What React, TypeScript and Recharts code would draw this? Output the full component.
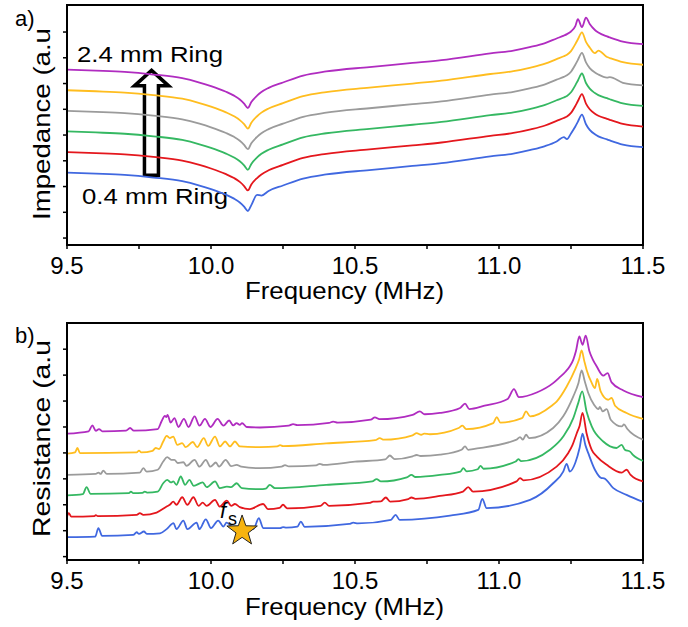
import React from "react";
import {
  LineChart,
  Line,
  XAxis,
  YAxis,
  ReferenceArea,
  ReferenceDot,
  Customized,
} from "recharts";

const FONT = '"Liberation Sans", Arial, Helvetica, sans-serif';

// Ring widths, 0.4 mm (blue) up to 2.4 mm (purple)
const SERIES = ["blue", "red", "green", "gray", "yellow", "purple"] as const;
const COLORS: Record<string, string> = {
  blue: "#4068e0",
  red: "#e4171d",
  green: "#35b862",
  gray: "#9b9b9b",
  yellow: "#ffbd1f",
  purple: "#b02cc0",
};

const X_TICKS = [9.5, 9.75, 10, 10.25, 10.5, 10.75, 11, 11.25, 11.5];
const Y_TICKS = [0, 1, 2, 3, 4, 5, 6, 7, 8];

// ---------- a) impedance (a.u.), offset per ring ----------
const FREQ_A = [
  9.5, 9.6, 9.7, 9.8, 9.9, 9.96, 10.0, 10.05, 10.08, 10.1, 10.115, 10.128, 10.14,
  10.16, 10.175, 10.2, 10.25, 10.32, 10.4, 10.55, 10.7, 10.8, 10.97, 11.05, 11.11,
  11.16, 11.2, 11.225, 11.236, 11.25, 11.265, 11.274, 11.288, 11.302, 11.315,
  11.333, 11.345, 11.375, 11.385, 11.43, 11.5,
];
const IMP_PURPLE = [
  6.54, 6.5, 6.45, 6.35, 6.21, 6.04, 5.9, 5.69, 5.53, 5.38, 5.22, 5.05, 5.28, 5.53,
  5.67, 5.83, 6.04, 6.31, 6.47, 6.64, 6.8, 6.91, 7.17, 7.28, 7.42, 7.57, 7.75, 7.86,
  7.92, 8.02, 8.23, 8.5, 8.19, 8.56, 8.31, 8.08, 7.98, 7.83, 7.79, 7.63, 7.53,
];
const IMP_YELLOW = [
  5.74, 5.7, 5.65, 5.55, 5.41, 5.24, 5.1, 4.89, 4.73, 4.58, 4.42, 4.25, 4.48, 4.73,
  4.87, 5.03, 5.24, 5.51, 5.67, 5.84, 6.0, 6.11, 6.37, 6.48, 6.62, 6.77, 6.95, 7.06,
  7.12, 7.26, 7.53, 7.72, 7.99, 7.62, 7.4, 7.18, 7.28, 7.03, 6.99, 6.83, 6.73,
];
const IMP_GRAY = [
  4.94, 4.9, 4.85, 4.75, 4.61, 4.44, 4.3, 4.09, 3.93, 3.78, 3.62, 3.45, 3.68, 3.93,
  4.07, 4.23, 4.44, 4.71, 4.87, 5.04, 5.2, 5.31, 5.57, 5.68, 5.82, 5.97, 6.15, 6.26,
  6.32, 6.46, 6.73, 6.92, 7.19, 6.82, 6.6, 6.43, 6.35, 6.23, 6.25, 6.03, 5.93,
];
const IMP_GREEN = [
  4.14, 4.1, 4.05, 3.95, 3.81, 3.64, 3.5, 3.29, 3.13, 2.98, 2.82, 2.65, 2.88, 3.13,
  3.27, 3.43, 3.64, 3.91, 4.07, 4.24, 4.4, 4.51, 4.77, 4.88, 5.02, 5.17, 5.35, 5.46,
  5.52, 5.66, 5.93, 6.12, 6.39, 6.02, 5.8, 5.63, 5.55, 5.43, 5.39, 5.23, 5.13,
];
const IMP_RED = [
  3.34, 3.3, 3.25, 3.15, 3.01, 2.84, 2.7, 2.49, 2.33, 2.18, 2.02, 1.85, 2.08, 2.33,
  2.47, 2.63, 2.84, 3.11, 3.27, 3.44, 3.6, 3.71, 3.97, 4.08, 4.22, 4.37, 4.55, 4.66,
  4.72, 4.86, 5.13, 5.32, 5.59, 5.22, 5.0, 4.83, 4.75, 4.63, 4.59, 4.43, 4.33,
];
const IMP_BLUE = [
  2.54, 2.5, 2.45, 2.35, 2.21, 2.04, 1.9, 1.69, 1.53, 1.38, 1.22, 1.05, 1.28, 1.68,
  1.65, 1.83, 2.04, 2.31, 2.47, 2.64, 2.8, 2.91, 3.17, 3.28, 3.42, 3.57, 3.75, 3.92,
  3.84, 4.06, 4.33, 4.52, 4.79, 4.42, 4.2, 4.03, 3.95, 3.83, 3.79, 3.63, 3.53,
];

// ---------- b) resistance (a.u.), [frequency MHz, value] ----------
type Pt = [number, number];
const RES_PURPLE: Pt[] = [
  [9.5, 4.74], [9.575, 4.83], [9.588, 5.06], [9.6, 4.85], [9.611, 4.92], [9.623, 4.83],
  [9.705, 4.86], [9.719, 4.96], [9.732, 4.86], [9.815, 4.92], [9.828, 5.21], [9.84, 5.43],
  [9.845, 5.38], [9.849, 5.47], [9.86, 5.17], [9.873, 5.34], [9.887, 5.0], [9.906, 5.31],
  [9.922, 5.0], [9.943, 5.41], [9.96, 5.05], [9.979, 5.31], [9.998, 5.0], [10.023, 5.31],
  [10.043, 5.05], [10.063, 5.25], [10.077, 5.06], [10.089, 5.15], [10.1, 5.08],
  [10.108, 5.15], [10.124, 5.0], [10.17, 4.98], [10.27, 5.05], [10.285, 5.11], [10.3, 5.07],
  [10.41, 5.16], [10.424, 5.21], [10.44, 5.17], [10.555, 5.28], [10.569, 5.37],
  [10.585, 5.3], [10.7, 5.47], [10.725, 5.6], [10.742, 5.49], [10.795, 5.54],
  [10.865, 5.73], [10.882, 5.9], [10.897, 5.69], [10.95, 5.82], [11.03, 6.08],
  [11.052, 6.46], [11.069, 6.15], [11.131, 6.33], [11.189, 6.7], [11.212, 6.93],
  [11.23, 7.12], [11.246, 7.34], [11.258, 7.6], [11.267, 7.92], [11.279, 8.49],
  [11.29, 8.17], [11.301, 8.52], [11.314, 7.92], [11.325, 7.62], [11.339, 7.34],
  [11.362, 6.98], [11.377, 7.08], [11.391, 6.72], [11.432, 6.41], [11.5, 6.15],
];
const RES_YELLOW: Pt[] = [
  [9.5, 3.97], [9.528, 4.02], [9.536, 4.19], [9.545, 3.99], [9.742, 4.02], [9.75, 4.09],
  [9.758, 4.02], [9.797, 4.08], [9.808, 4.19], [9.82, 4.15], [9.834, 4.44], [9.846, 4.66],
  [9.857, 4.57], [9.869, 4.63], [9.883, 4.31], [9.9, 4.38], [9.912, 4.22], [9.937, 4.42],
  [9.952, 4.22], [9.975, 4.57], [9.99, 4.27], [10.014, 4.63], [10.031, 4.25],
  [10.049, 4.44], [10.066, 4.25], [10.083, 4.44], [10.1, 4.25], [10.17, 4.22],
  [10.23, 4.25], [10.24, 4.3], [10.25, 4.26], [10.4, 4.37], [10.57, 4.49], [10.586, 4.57],
  [10.6, 4.51], [10.7, 4.68], [10.714, 4.76], [10.73, 4.7], [10.74, 4.74], [10.76, 4.72],
  [10.86, 4.96], [10.873, 5.05], [10.886, 4.92], [10.98, 5.15], [10.992, 5.38],
  [11.005, 5.17], [11.08, 5.34], [11.094, 5.6], [11.108, 5.41], [11.183, 5.82],
  [11.2, 5.98], [11.235, 6.56], [11.264, 7.21], [11.278, 7.6], [11.287, 7.95],
  [11.296, 7.55], [11.304, 7.21], [11.322, 6.7], [11.333, 6.5], [11.341, 6.85],
  [11.353, 6.37], [11.379, 6.05], [11.391, 6.12], [11.403, 5.82], [11.443, 5.54],
  [11.5, 5.31],
];
const RES_GRAY: Pt[] = [
  [9.5, 3.15], [9.6, 3.19], [9.609, 3.24], [9.617, 3.19], [9.626, 3.32], [9.638, 3.19],
  [9.753, 3.24], [9.765, 3.41], [9.777, 3.28], [9.815, 3.35], [9.834, 3.67], [9.848, 3.84],
  [9.862, 3.73], [9.873, 3.73], [9.885, 3.61], [9.904, 3.64], [9.915, 3.5], [9.943, 3.73],
  [9.96, 3.47], [9.982, 3.73], [9.998, 3.47], [10.017, 3.63], [10.028, 3.47],
  [10.051, 3.73], [10.07, 3.49], [10.089, 3.54], [10.105, 3.47], [10.17, 3.41],
  [10.245, 3.47], [10.257, 3.53], [10.27, 3.48], [10.365, 3.52], [10.378, 3.58],
  [10.39, 3.54], [10.5, 3.66], [10.605, 3.75], [10.621, 3.9], [10.638, 3.76], [10.7, 3.87],
  [10.714, 3.92], [10.728, 3.88], [10.795, 3.93], [10.87, 4.12], [10.882, 4.25],
  [10.893, 4.12], [10.91, 4.15], [11.061, 4.51], [11.073, 4.61], [11.083, 4.51],
  [11.094, 4.7], [11.105, 4.57], [11.188, 4.96], [11.223, 5.41], [11.258, 6.18],
  [11.276, 6.7], [11.287, 7.18], [11.298, 6.75], [11.31, 6.31], [11.33, 5.86],
  [11.345, 5.69], [11.35, 5.77], [11.36, 5.6], [11.374, 5.69], [11.388, 5.28],
  [11.426, 5.02], [11.434, 5.1], [11.445, 4.93], [11.5, 4.51],
];
const RES_GREEN: Pt[] = [
  [9.5, 2.36], [9.555, 2.41], [9.568, 2.68], [9.582, 2.42], [9.715, 2.45], [9.722, 2.51],
  [9.73, 2.45], [9.762, 2.46], [9.77, 2.51], [9.778, 2.47], [9.815, 2.51], [9.834, 2.83],
  [9.848, 2.96], [9.861, 2.86], [9.869, 2.9], [9.88, 2.77], [9.895, 3.09], [9.91, 2.77],
  [9.925, 2.96], [9.94, 2.73], [9.971, 2.86], [9.985, 2.68], [10.014, 2.9], [10.031, 2.64],
  [10.055, 2.7], [10.07, 2.68], [10.089, 2.83], [10.107, 2.64], [10.17, 2.6], [10.19, 2.62],
  [10.204, 2.77], [10.222, 2.64], [10.4, 2.77], [10.56, 2.9], [10.575, 2.99], [10.59, 2.9],
  [10.68, 3.06], [10.696, 3.15], [10.71, 3.07], [10.795, 3.15], [10.866, 3.28],
  [10.876, 3.41], [10.888, 3.29], [10.926, 3.37], [10.936, 3.5], [10.946, 3.39],
  [11.058, 3.67], [11.067, 3.76], [11.077, 3.68], [11.177, 4.12], [11.223, 4.63],
  [11.258, 5.34], [11.275, 5.92], [11.289, 6.37], [11.304, 5.6], [11.322, 5.02],
  [11.362, 4.44], [11.408, 4.19], [11.426, 4.31], [11.437, 4.12], [11.455, 4.05],
  [11.465, 3.92], [11.5, 3.69],
];
const RES_RED: Pt[] = [
  [9.5, 1.54], [9.506, 1.68], [9.515, 1.54], [9.595, 1.56], [9.6, 1.6], [9.607, 1.56],
  [9.742, 1.61], [9.753, 1.68], [9.765, 1.61], [9.811, 1.7], [9.846, 1.93], [9.857, 2.0],
  [9.869, 2.12], [9.88, 2.0], [9.9, 2.29], [9.918, 2.0], [9.939, 2.29], [9.957, 1.96],
  [9.971, 2.08], [9.985, 1.96], [10.014, 2.19], [10.03, 1.93], [10.055, 2.16],
  [10.07, 1.96], [10.083, 2.03], [10.1, 1.91], [10.135, 1.83], [10.181, 2.03],
  [10.198, 1.83], [10.238, 1.88], [10.25, 2.0], [10.265, 1.86], [10.38, 1.96],
  [10.395, 2.08], [10.41, 1.96], [10.55, 2.07], [10.563, 2.12], [10.59, 2.13],
  [10.607, 2.28], [10.622, 2.12], [10.685, 2.22], [10.696, 2.28], [10.71, 2.23],
  [10.795, 2.34], [10.875, 2.51], [10.893, 2.68], [10.91, 2.51], [11.061, 2.9],
  [11.073, 3.03], [11.085, 2.94], [11.2, 3.47], [11.24, 3.99], [11.255, 4.3],
  [11.27, 4.76], [11.28, 5.05], [11.29, 5.54], [11.304, 4.76], [11.322, 4.12],
  [11.34, 3.86], [11.374, 3.54], [11.426, 3.24], [11.443, 3.35], [11.457, 3.15],
  [11.5, 2.9],
];
const RES_BLUE: Pt[] = [
  [9.5, 0.75], [9.598, 0.77], [9.609, 1.1], [9.622, 0.8], [9.73, 0.84], [9.742, 0.94],
  [9.75, 0.88], [9.767, 0.97], [9.777, 0.88], [9.823, 0.9], [9.846, 1.06], [9.87, 1.29],
  [9.88, 1.06], [9.904, 1.39], [9.918, 1.06], [9.95, 1.31], [9.96, 1.06], [9.982, 1.44],
  [10.0, 1.1], [10.025, 1.39], [10.043, 1.16], [10.054, 1.31], [10.078, 1.1],
  [10.147, 1.06], [10.166, 1.48], [10.182, 1.1], [10.24, 1.1], [10.25, 1.14],
  [10.262, 1.12], [10.3, 1.16], [10.312, 1.35], [10.325, 1.15], [10.48, 1.26],
  [10.494, 1.31], [10.51, 1.28], [10.625, 1.42], [10.641, 1.61], [10.655, 1.42],
  [10.83, 1.58], [10.928, 1.8], [10.942, 2.23], [10.957, 1.87], [11.108, 2.19],
  [11.188, 2.83], [11.223, 3.28], [11.235, 3.58], [11.246, 3.28], [11.265, 3.62],
  [11.28, 4.2], [11.29, 4.74], [11.3, 4.3], [11.31, 3.99], [11.333, 3.35], [11.356, 3.03],
  [11.365, 3.02], [11.397, 2.64], [11.443, 2.38], [11.5, 2.11],
];

// series resonance marker (f_s)
const FS_MARK = { f: 10.108, v: 0.99 };

const IMP_ROWS = FREQ_A.map((f, i) => ({
  f,
  blue: IMP_BLUE[i],
  red: IMP_RED[i],
  green: IMP_GREEN[i],
  gray: IMP_GRAY[i],
  yellow: IMP_YELLOW[i],
  purple: IMP_PURPLE[i],
}));

const RES_SETS: Record<string, Pt[]> = {
  blue: RES_BLUE,
  red: RES_RED,
  green: RES_GREEN,
  gray: RES_GRAY,
  yellow: RES_YELLOW,
  purple: RES_PURPLE,
};

const DOMAIN_X: [number, number] = [9.5, 11.5];
const DOMAIN_A: [number, number] = [-0.27, 9.05];
const DOMAIN_B: [number, number] = [-0.13, 9.01];

const FreqTick = (props: any) => {
  const { x, y, payload } = props;
  const v = payload.value as number;
  if (Math.abs(v * 2 - Math.round(v * 2)) > 1e-6) return <g />;
  return (
    <text x={x} y={y + 25} textAnchor="middle" fontFamily={FONT} fontSize={24} fill="#000">
      {v.toFixed(1)}
    </text>
  );
};

// y axes carry tick marks only, no numbers
const BlankTick = () => <g />;

type TxtProps = {
  x: number;
  y: number;
  size: number;
  len?: number;
  anchor?: "start" | "middle" | "end";
  vertical?: boolean;
  children: React.ReactNode;
};
const Txt = ({ x, y, size, len, anchor = "start", vertical = false, children }: TxtProps) => (
  <text
    x={x}
    y={y}
    fontSize={size}
    fontFamily={FONT}
    fill="#000"
    textAnchor={anchor}
    textLength={len}
    lengthAdjust={len ? "spacingAndGlyphs" : undefined}
    transform={vertical ? `rotate(-90 ${x} ${y})` : undefined}
  >
    {children}
  </text>
);

const HollowArrow = (p: any) => {
  const { x, y, width: w, height: h } = p;
  const head = 17.5;
  const pts = [
    [x + w / 2, y + 2],
    [x + w - 1.5, y + head],
    [x + 25.5, y + head],
    [x + 25.5, y + h - 1.5],
    [x + 11.5, y + h - 1.5],
    [x + 11.5, y + head],
    [x + 1.5, y + head],
  ]
    .map((q) => q.join(","))
    .join(" ");
  return (
    <polygon points={pts} fill="none" stroke="#000" strokeWidth={3.5} strokeLinejoin="miter" />
  );
};

const StarMark = (p: any) => {
  const { cx, cy } = p;
  const R = 16;
  const r = 6.4;
  const pts: string[] = [];
  for (let k = 0; k < 10; k++) {
    const a = -Math.PI / 2 + (k * Math.PI) / 5;
    const rad = k % 2 === 0 ? R : r;
    pts.push(`${cx + rad * Math.cos(a)},${cy + rad * Math.sin(a)}`);
  }
  return (
    <g>
      <polygon points={pts.join(" ")} fill="#f6b30f" stroke="#222" strokeWidth={1} />
      <text x={cx - 22} y={cy - 13} fontSize={22} fontStyle="italic" fontFamily={FONT} fill="#000">
        f
      </text>
      <text x={cx - 14} y={cy - 6} fontSize={18} fontFamily={FONT} fill="#000">
        s
      </text>
    </g>
  );
};

const axisLine = { stroke: "#000", strokeWidth: 2 };
const tickLine = { stroke: "#000", strokeWidth: 1.5 };

export default function App() {
  return (
    <div style={{ position: "absolute", left: 0, top: 0, width: 688, height: 627, background: "#fff" }}>
      <div style={{ position: "absolute", left: 0, top: 0 }}>
        <LineChart width={688} height={310} data={IMP_ROWS} margin={{ top: 5, right: 45, left: 0, bottom: 0 }}>
          <XAxis
            dataKey="f"
            type="number"
            domain={DOMAIN_X}
            ticks={X_TICKS}
            interval={0}
            height={65}
            tickSize={4}
            tickMargin={0}
            axisLine={axisLine}
            tickLine={tickLine}
            tick={<FreqTick />}
          />
          <YAxis
            type="number"
            domain={DOMAIN_A}
            ticks={Y_TICKS}
            interval={0}
            width={67}
            tickSize={4}
            axisLine={axisLine}
            tickLine={tickLine}
            tick={<BlankTick />}
          />
          {SERIES.map((s) => (
            <Line
              key={s}
              type="monotone"
              dataKey={s}
              stroke={COLORS[s]}
              strokeWidth={1.8}
              dot={false}
              activeDot={false}
              isAnimationActive={false}
            />
          ))}
          <ReferenceArea
            x1={9.729}
            x2={9.858}
            y1={2.38}
            y2={6.59}
            shape={<HollowArrow />}
            ifOverflow="visible"
          />
          <ReferenceArea
            x1={DOMAIN_X[0]}
            x2={DOMAIN_X[1]}
            y1={DOMAIN_A[0]}
            y2={DOMAIN_A[1]}
            fill="none"
            fillOpacity={0}
            stroke="#000"
            strokeWidth={2}
            ifOverflow="visible"
          />
          <Customized
            component={() => (
              <g>
                <Txt x={15} y={26} size={22}>a)</Txt>
                <Txt x={50} y={220} size={24} len={192} vertical>
                  Impedance (a.u
                </Txt>
                <Txt x={344.5} y={299} size={24} len={199} anchor="middle">
                  Frequency (MHz)
                </Txt>
                <Txt x={77} y={62} size={22} len={146}>2.4 mm Ring</Txt>
                <Txt x={82} y={204} size={22} len={146}>0.4 mm Ring</Txt>
              </g>
            )}
          />
        </LineChart>
      </div>
      <div style={{ position: "absolute", left: 0, top: 310 }}>
        <LineChart width={688} height={317} margin={{ top: 13, right: 45, left: 0, bottom: 0 }}>
          <XAxis
            dataKey="f"
            type="number"
            domain={DOMAIN_X}
            ticks={X_TICKS}
            interval={0}
            height={67}
            tickSize={4}
            tickMargin={0}
            axisLine={axisLine}
            tickLine={tickLine}
            tick={<FreqTick />}
            allowDuplicatedCategory={false}
          />
          <YAxis
            type="number"
            domain={DOMAIN_B}
            ticks={Y_TICKS}
            interval={0}
            width={67}
            tickSize={4}
            axisLine={axisLine}
            tickLine={tickLine}
            tick={<BlankTick />}
          />
          {SERIES.map((s) => (
            <Line
              key={s}
              data={RES_SETS[s].map(([f, v]) => ({ f, v }))}
              type="monotone"
              dataKey="v"
              stroke={COLORS[s]}
              strokeWidth={1.8}
              dot={false}
              activeDot={false}
              isAnimationActive={false}
            />
          ))}
          <ReferenceArea
            x1={DOMAIN_X[0]}
            x2={DOMAIN_X[1]}
            y1={DOMAIN_B[0]}
            y2={DOMAIN_B[1]}
            fill="none"
            fillOpacity={0}
            stroke="#000"
            strokeWidth={2}
            ifOverflow="visible"
          />
          <ReferenceDot x={FS_MARK.f} y={FS_MARK.v} shape={<StarMark />} ifOverflow="visible" />
          <Customized
            component={() => (
              <g>
                <Txt x={15} y={33} size={22}>b)</Txt>
                <Txt x={50} y={227} size={24} len={197} vertical>
                  Resistance (a.u
                </Txt>
                <Txt x={344.5} y={305} size={24} len={199} anchor="middle">
                  Frequency (MHz)
                </Txt>
              </g>
            )}
          />
        </LineChart>
      </div>
    </div>
  );
}
